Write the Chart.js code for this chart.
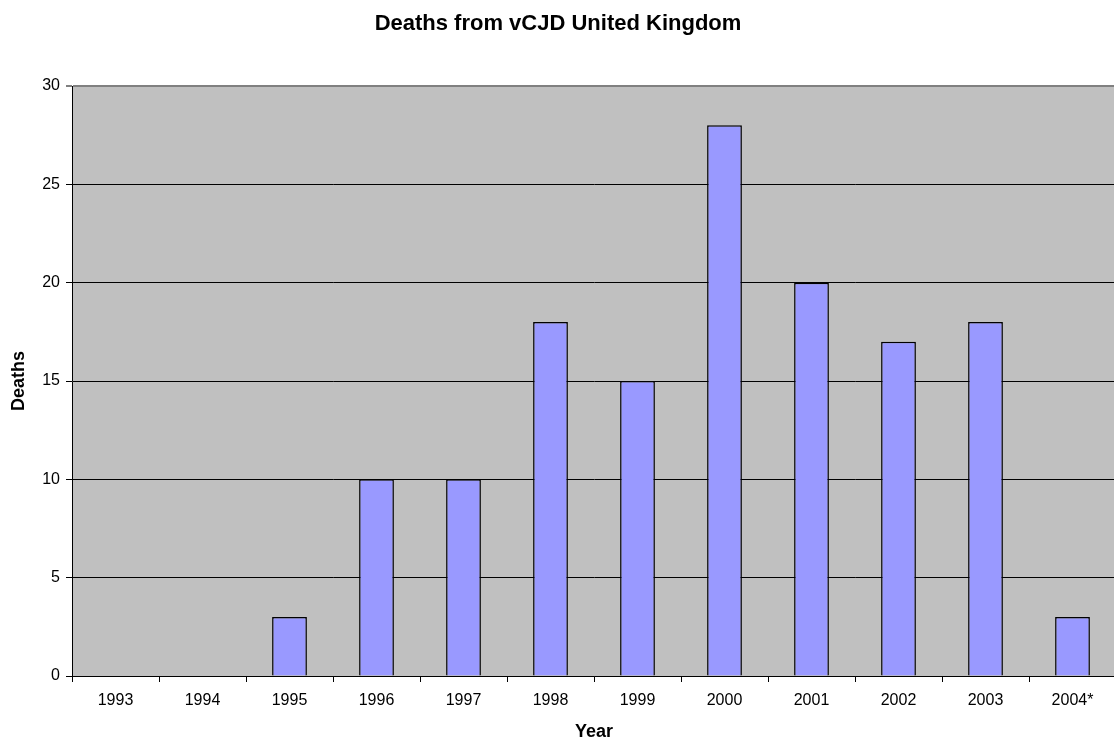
<!DOCTYPE html>
<html>
<head>
<meta charset="utf-8">
<title>Deaths from vCJD United Kingdom</title>
<script src="https://cdn.jsdelivr.net/npm/chart.js@4/dist/chart.umd.min.js"></script>
<style>
  html, body { margin: 0; padding: 0; background: #ffffff; overflow: hidden; }
  #wrap { position: relative; width: 1117px; height: 742px; }
</style>
</head>
<body>
<div id="wrap"><canvas id="chart" width="1117" height="742"></canvas></div>
<script>
// Yearly vCJD deaths in the United Kingdom (2004 is provisional)
const years = ['1993', '1994', '1995', '1996', '1997', '1998', '1999', '2000', '2001', '2002', '2003', '2004*'];
const deaths = [0, 0, 3, 10, 10, 18, 15, 28, 20, 17, 18, 3];
const yTicks = [0, 5, 10, 15, 20, 25, 30];

const FONT = "'Liberation Sans', Arial, sans-serif";

// Grey plot-area fill behind the bars
const plotBackground = {
  id: 'plotBackground',
  beforeDraw(chart) {
    const a = chart.chartArea;
    const ctx = chart.ctx;
    ctx.save();
    ctx.fillStyle = '#C0C0C0';
    ctx.fillRect(a.left, a.top, a.right - a.left, a.bottom - a.top);
    ctx.restore();
  }
};

new Chart(document.getElementById('chart'), {
  type: 'bar',
  data: {
    labels: years,
    datasets: [{
      label: 'Deaths',
      data: deaths,
      backgroundColor: '#9999FF',
      borderColor: '#000000',
      borderWidth: 1.5,
      barPercentage: 0.4,
      categoryPercentage: 1.0
    }]
  },
  options: {
    responsive: false,
    animation: false,
    devicePixelRatio: 1,
    layout: { padding: { left: 0, right: 1, top: 0, bottom: 0 } },
    plugins: {
      legend: { display: false },
      tooltip: { enabled: false },
      title: {
        display: true,
        text: 'Deaths from vCJD United Kingdom',
        color: '#000000',
        font: { family: FONT, size: 22, weight: 'bold', lineHeight: 1.2 },
        padding: { top: 10.3, bottom: 49.3 }
      }
    },
    scales: {
      x: {
        grid: {
          display: true,
          drawOnChartArea: false,
          drawTicks: true,
          tickLength: 6,
          color: '#000000',
          offset: true
        },
        border: { display: true, color: '#000000', width: 1 },
        ticks: {
          color: '#000000',
          font: { family: FONT, size: 16 },
          padding: 9,
          maxRotation: 0,
          autoSkip: false
        },
        title: {
          display: true,
          text: 'Year',
          color: '#000000',
          font: { family: FONT, size: 18, weight: 'bold', lineHeight: 1.1 },
          padding: { top: 0, bottom: 0 }
        },
        afterFit(scale) { scale.height = 66; }
      },
      y: {
        min: 0,
        max: 30,
        afterBuildTicks(scale) { scale.ticks = yTicks.map(v => ({ value: v })); },
        grid: {
          display: true,
          drawOnChartArea: true,
          drawTicks: true,
          tickLength: 6,
          color: ctx => (ctx.tick && ctx.tick.value === 30 ? '#808080' : '#000000'),
          lineWidth: ctx => (ctx.tick && ctx.tick.value === 30 ? 2 : 1)
        },
        border: { display: true, color: '#000000', width: 1 },
        ticks: {
          color: '#000000',
          font: { family: FONT, size: 16 },
          padding: 6
        },
        title: {
          display: true,
          text: 'Deaths',
          color: '#000000',
          font: { family: FONT, size: 18, weight: 'bold', lineHeight: 1.2 },
          padding: { top: 8, bottom: 0 }
        },
        afterFit(scale) { scale.width = 72; }
      }
    }
  },
  plugins: [plotBackground]
});
</script>
</body>
</html>
